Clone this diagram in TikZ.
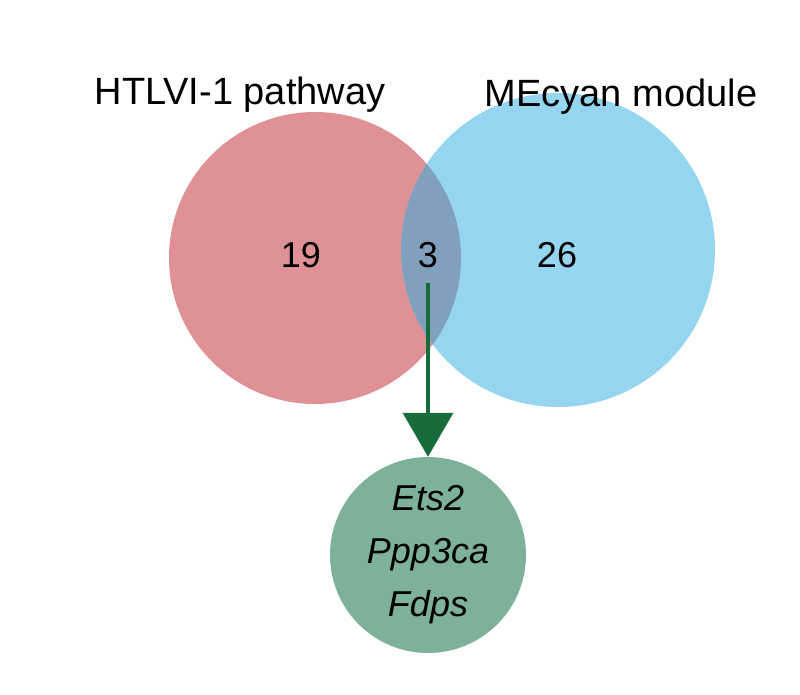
\documentclass[tikz,border=0pt]{standalone}
\usepackage{fontspec}
\setmainfont{Liberation Sans}
\usetikzlibrary{arrows.meta}
\definecolor{cred}{RGB}{223,145,150}
\definecolor{cblue}{RGB}{150,213,239}
\definecolor{cover}{RGB}{128,160,190}
\definecolor{cgreen}{RGB}{126,178,152}
\definecolor{carrow}{RGB}{22,108,58}
\begin{document}
\begin{tikzpicture}[x=1pt,y=-1pt,
  lbl/.style={font=\fontsize{38}{40}\selectfont, inner sep=0pt},
  num/.style={font=\fontsize{36}{40}\selectfont, inner sep=0pt}]
\useasboundingbox (0,0) rectangle (800,694);
\fill[cred] (315,258) circle (146);
\fill[cblue] (558,250) circle (157);
\begin{scope}
\clip (315,258) circle (146);
\fill[cover] (558,250) circle (157);
\end{scope}
\node[lbl] (t1) at (240,95) {HTLVI-1 pathway};
\node[lbl] (t2) at (621,97) {MEcyan module};
\node[num] (n19) at (301,255) {19};
\node[num] (n3) at (428,255) {3};
\node[num] (n26) at (557,255) {26};
\node[circle, fill=cgreen, minimum size=196pt, inner sep=0pt] (g) at (428,555) {};
\node[num, font=\fontsize{36}{53}\selectfont\itshape, align=center] at (g.center) {Ets2\\Ppp3ca\\Fdps};
\coordinate (a0) at (428,283);
\draw[carrow, line width=3.5pt, -{Triangle[length=44pt,width=50pt]}] (a0) -- (g.north);
\end{tikzpicture}
\end{document}
